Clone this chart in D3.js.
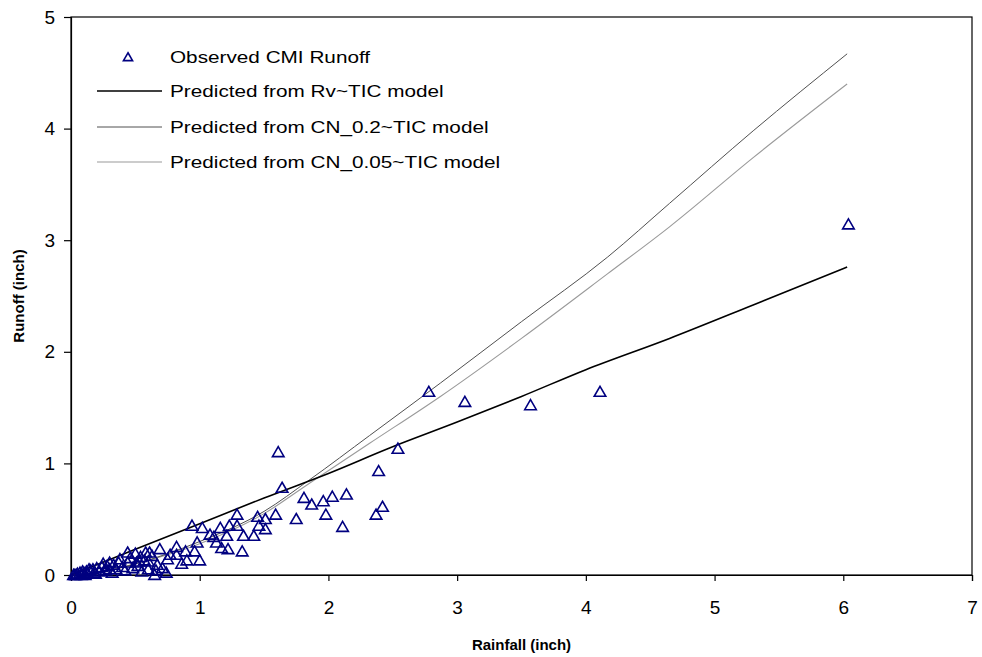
<!DOCTYPE html>
<html>
<head>
<meta charset="utf-8">
<script src="https://cdn.jsdelivr.net/npm/d3@7/dist/d3.min.js"></script>
<style>
  html, body { margin: 0; padding: 0; background: #fff; }
  svg { display: block; font-family: "Liberation Sans", Arial, sans-serif; }
</style>
</head>
<body>
<svg id="chart" width="982" height="657"></svg>
<script>
// Observed event rainfall (inch) and runoff (inch)
const obsRain = [
  6.04, 4.11, 3.57, 3.06, 2.78, 2.54, 2.39, 2.42, 2.37, 2.14, 2.11, 2.03, 1.98, 1.96,
  1.87, 1.81, 1.75, 1.64, 1.61, 1.59, 1.51, 1.45, 1.46, 1.51, 1.42, 1.34, 1.29, 1.29,
  1.23, 1.21, 1.22, 1.33, 1.11, 1.13, 1.16, 1.17, 1.08, 1.02, 0.94, 0.98, 1.00, 0.96,
  0.89, 0.90, 0.82, 0.82, 0.77, 0.75, 0.69, 0.67, 0.61, 0.60, 0.54, 0.51, 0.44, 0.44,
  0.37, 0.30, 0.30, 0.24, 0.17, 0.12, 0.07, 0.03,
  0.02, 0.05, 0.08, 0.10, 0.13, 0.15, 0.18, 0.20, 0.22, 0.25, 0.27, 0.28, 0.32, 0.33,
  0.35, 0.38, 0.40, 0.42, 0.46, 0.48, 0.50, 0.52, 0.55, 0.57, 0.60, 0.63, 0.65, 0.66,
  0.58, 0.53, 0.86, 0.71, 0.74, 0.04, 0.09, 0.14, 0.19, 0.11
];
const obsRunoff = [
  3.14, 1.64, 1.52, 1.55, 1.64, 1.13, 0.93, 0.61, 0.54, 0.72, 0.43, 0.70, 0.54, 0.66,
  0.63, 0.69, 0.50, 0.78, 1.10, 0.54, 0.50, 0.52, 0.44, 0.41, 0.35, 0.35, 0.54, 0.44,
  0.44, 0.35, 0.23, 0.21, 0.34, 0.29, 0.42, 0.24, 0.36, 0.42, 0.44, 0.29, 0.13, 0.21,
  0.21, 0.13, 0.25, 0.18, 0.18, 0.14, 0.23, 0.09, 0.20, 0.12, 0.16, 0.11, 0.20, 0.11,
  0.11, 0.11, 0.05, 0.07, 0.05, 0.03, 0.02, 0.00,
  0.00, 0.01, 0.00, 0.02, 0.01, 0.04, 0.02, 0.06, 0.03, 0.10, 0.04, 0.08, 0.02, 0.09,
  0.05, 0.14, 0.07, 0.04, 0.15, 0.06, 0.19, 0.08, 0.03, 0.13, 0.05, 0.17, 0.00, 0.04,
  0.20, 0.12, 0.10, 0.06, 0.02, 0.00, 0.03, 0.05, 0.01, 0.00
];

// Model predictions (rainfall, runoff) along the observed rainfall range
const rvRain   = [0, 0.5, 1.0, 1.5, 2.0, 2.48, 3.0, 3.5, 4.0, 4.65, 5.3, 6.03];
const rvRunoff = [0, 0.23, 0.46, 0.69, 0.91, 1.14, 1.37, 1.60, 1.84, 2.12, 2.42, 2.76];

const cn02Rain   = [0, 0.2, 0.5, 1.0, 1.5, 1.85, 2.32, 2.87, 3.5, 4.17, 4.65, 5.3, 6.03];
const cn02Runoff = [0, 0.02, 0.10, 0.30, 0.57, 0.85, 1.25, 1.72, 2.27, 2.85, 3.33, 3.98, 4.67];

const cn005Rain   = [0, 0.2, 0.5, 1.0, 1.5, 1.85, 2.32, 2.87, 3.5, 4.17, 4.65, 5.3, 6.03];
const cn005Runoff = [0, 0.02, 0.10, 0.28, 0.55, 0.82, 1.18, 1.60, 2.12, 2.70, 3.12, 3.74, 4.40];

const xTicks = [0, 1, 2, 3, 4, 5, 6, 7];
const yTicks = [0, 1, 2, 3, 4, 5];

const legendLabels = [
  "Observed CMI Runoff",
  "Predicted from Rv~TIC model",
  "Predicted from CN_0.2~TIC model",
  "Predicted from CN_0.05~TIC model"
];

const svg = d3.select("#chart");
const plotLeft = 71, plotRight = 972, plotTop = 17, plotBottom = 575;

const x = d3.scaleLinear().domain([0, 7]).range([plotLeft, plotRight]);
const y = d3.scaleLinear().domain([0, 5]).range([plotBottom, plotTop]);

// Plot frame
svg.append("rect")
  .attr("x", plotLeft).attr("y", plotTop)
  .attr("width", plotRight - plotLeft).attr("height", plotBottom - plotTop)
  .attr("fill", "none").attr("stroke", "#000").attr("stroke-width", 1.2);

// Axes
const xAxis = svg.append("g")
  .attr("transform", `translate(0,${plotBottom})`)
  .call(d3.axisBottom(x).tickValues(xTicks).tickFormat(d3.format("d")).tickSize(6).tickPadding(20));
const yAxis = svg.append("g")
  .attr("transform", `translate(${plotLeft},0)`)
  .call(d3.axisLeft(y).tickValues(yTicks).tickFormat(d3.format("d")).tickSize(7).tickPadding(9));
[xAxis, yAxis].forEach(g => {
  g.select(".domain").attr("stroke", "#000").attr("stroke-width", 1.2);
  g.selectAll(".tick line").attr("stroke", "#000").attr("stroke-width", 1.2);
  g.selectAll(".tick text").attr("fill", "#000")
    .style("font-size", "19px").style("font-family", "'Liberation Sans', Arial, sans-serif");
});

// Axis titles
svg.append("text")
  .attr("x", (plotLeft + plotRight) / 2).attr("y", 650)
  .attr("text-anchor", "middle")
  .style("font-size", "15px").style("font-weight", "bold")
  .text("Rainfall (inch)");
svg.append("text")
  .attr("transform", `translate(24,${(plotTop + plotBottom) / 2}) rotate(-90)`)
  .attr("text-anchor", "middle")
  .style("font-size", "15px").style("font-weight", "bold")
  .text("Runoff (inch)");

// Model lines
const line = d3.line().x(d => x(d[0])).y(d => y(d[1])).curve(d3.curveMonotoneX);
const series = [
  { rain: cn005Rain, runoff: cn005Runoff, color: "#9a9a9a", width: 1.1 },
  { rain: cn02Rain,  runoff: cn02Runoff,  color: "#505050", width: 1.0 },
  { rain: rvRain,    runoff: rvRunoff,    color: "#000000", width: 1.6 }
];
series.forEach(s => {
  svg.append("path")
    .datum(d3.zip(s.rain, s.runoff))
    .attr("d", line)
    .attr("fill", "none")
    .attr("stroke", s.color)
    .attr("stroke-width", s.width);
});

// Observed points as open triangles
const tri = d3.symbol().type(d3.symbolTriangle).size(58);
svg.append("g").selectAll("path")
  .data(d3.zip(obsRain, obsRunoff))
  .join("path")
  .attr("transform", d => `translate(${x(d[0])},${y(d[1]) + 1})`)
  .attr("d", tri)
  .attr("fill", "none")
  .attr("stroke", "#000080")
  .attr("stroke-width", 1.6);

// Legend
const legend = svg.append("g").style("font-size", "17px");
const rowY = [57, 91, 127, 162];
legend.append("path")
  .attr("transform", `translate(128,${rowY[0] + 1})`)
  .attr("d", d3.symbol().type(d3.symbolTriangle).size(36))
  .attr("fill", "none").attr("stroke", "#000080").attr("stroke-width", 1.6);
const legendLines = [
  { color: "#000000", width: 1.6 },
  { color: "#505050", width: 1.0 },
  { color: "#9a9a9a", width: 1.1 }
];
legendLines.forEach((s, i) => {
  legend.append("line")
    .attr("x1", 97).attr("x2", 162)
    .attr("y1", rowY[i + 1]).attr("y2", rowY[i + 1])
    .attr("stroke", s.color).attr("stroke-width", s.width);
});
legendLabels.forEach((t, i) => {
  legend.append("text")
    .attr("transform", `translate(170,${rowY[i]}) scale(1.22,1)`)
    .attr("dy", "0.36em")
    .text(t);
});
</script>
</body>
</html>
